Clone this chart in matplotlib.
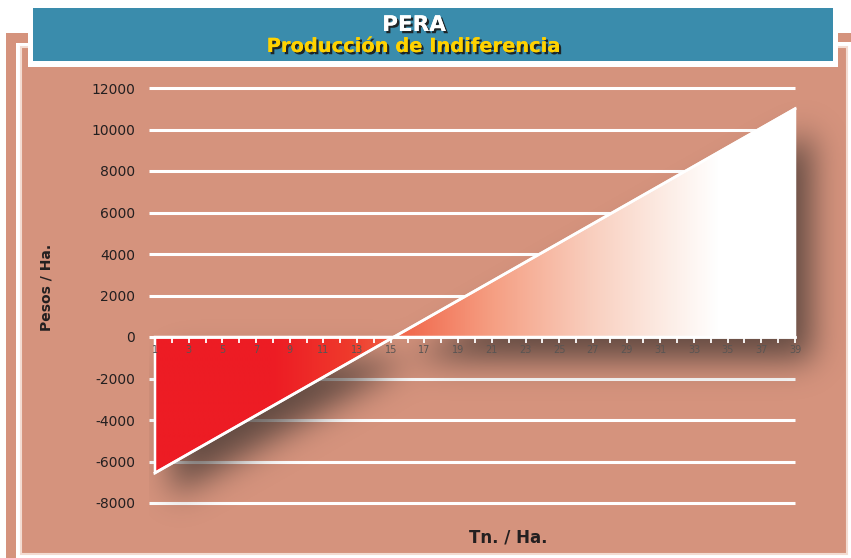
import numpy as np
import matplotlib
matplotlib.use("Agg")
import matplotlib.pyplot as plt
from matplotlib.patches import Rectangle, PathPatch
from matplotlib.path import Path
from matplotlib.colors import LinearSegmentedColormap
import matplotlib.patheffects as pe

# ---- data ----
x_values = [1, 39]                 # Tn./Ha. (line end points)
y_values = [-6550, 11000]          # Pesos/Ha.
x_categories = list(range(1, 40))
x_tick_labels = [str(c) if c % 2 == 1 else "" for c in x_categories]
y_ticks = [-8000, -6000, -4000, -2000, 0, 2000, 4000, 6000, 8000, 10000, 12000]
title_top = "PERA"
title_sub = "Producción de Indiferencia"
xlabel = "Tn. / Ha."
ylabel = "Pesos / Ha."

# ---- style ----
W_PX, H_PX = 851, 558
DPI = 100
SALMON = "#D5937D"
TEAL = "#3A8CAC"
TXT = "#231F20"

fig = plt.figure(figsize=(W_PX / DPI, H_PX / DPI), dpi=DPI)
fig.patch.set_facecolor("white")

# background frame axes in pixel coordinates
bg = fig.add_axes([0, 0, 1, 1], zorder=0)
bg.set_xlim(0, W_PX)
bg.set_ylim(H_PX, 0)
bg.axis("off")
bg.add_patch(Rectangle((6, 33), 10, 530, color=SALMON, lw=0))
bg.add_patch(Rectangle((6, 33), 22, 10, color=SALMON, lw=0))
bg.add_patch(Rectangle((838, 33), 14, 9, color=SALMON, lw=0))
bg.add_patch(Rectangle((21, 47), 826, 507, facecolor=SALMON, edgecolor="#F3DCD2", lw=1.5))
bg.add_patch(Rectangle((28, 3), 810, 64, color="white", lw=0))
bg.add_patch(Rectangle((33, 8), 800, 53, color=TEAL, lw=0))

shadow_fx = [pe.withSimplePatchShadow(offset=(1.6, -1.6), shadow_rgbFace="#1a1a1a", alpha=0.9), pe.Normal()]
bg.text(414, 25, title_top, ha="center", va="center", fontsize=15.5, fontweight="bold",
        color="white", family="DejaVu Sans", path_effects=shadow_fx)
bg.text(414, 46.5, title_sub, ha="center", va="center", fontsize=14, fontweight="bold",
        color="#FFD200", family="DejaVu Sans", path_effects=shadow_fx)

# ---- plot axes ----
ax_l, ax_r, ax_t, ax_b = 149, 846, 80, 545
ax = fig.add_axes([ax_l / W_PX, 1 - ax_b / H_PX, (ax_r - ax_l) / W_PX, (ax_b - ax_t) / H_PX], zorder=1)
ax.patch.set_alpha(0)
px_per_x = 640 / 38.0
px_per_y = 249 / 12000.0
xmin = 1 - 6 / px_per_x
xmax = 39 + (ax_r - 795) / px_per_x
ymax = 12000 + (88 - ax_t) / px_per_y
ymin = -8000 - (ax_b - 503) / px_per_y
ax.set_xlim(xmin, xmax)
ax.set_ylim(ymin, ymax)

# grid lines
ax.hlines(y_ticks, xmin, 39, colors="white", lw=2.2, zorder=1)

# region polygon between line and zero
xs = np.array(x_values, float)
ys = np.array(y_values, float)
verts = [(xs[0], 0)] + list(zip(xs, ys)) + [(xs[-1], 0), (xs[0], 0)]
codes = [Path.MOVETO] + [Path.LINETO] * (len(verts) - 2) + [Path.CLOSEPOLY]
region = Path(verts, codes)

# shadow
W = ax_r - ax_l
H = ax_b - ax_t
pxs = np.arange(W) + 0.5
pys = np.arange(H) + 0.5
gx, gy = np.meshgrid(pxs, pys)
xd = xmin + gx / W * (xmax - xmin)
yd = ymax - gy / H * (ymax - ymin)
off_x, off_y = 17, 23
pts = np.column_stack([(xd - off_x / px_per_x).ravel(), (yd + off_y / px_per_y).ravel()])
mask = region.contains_points(pts).reshape(H, W).astype(float)
sig = 16.0
k = np.arange(-55, 56)
kern = np.exp(-k ** 2 / (2 * sig ** 2))
kern /= kern.sum()
blur = np.apply_along_axis(lambda r: np.convolve(r, kern, mode="same"), 1, mask)
blur = np.apply_along_axis(lambda c: np.convolve(c, kern, mode="same"), 0, blur)
rgba = np.zeros((H, W, 4))
rgba[..., 0] = 60 / 255
rgba[..., 1] = 50 / 255
rgba[..., 2] = 46 / 255
rgba[..., 3] = np.clip(blur * 0.75, 0, 1)
ax.imshow(rgba, extent=[xmin, xmax, ymin, ymax], origin="upper", aspect="auto",
          interpolation="bilinear", zorder=2)

# gradient fill
stops = [(1, "#ED1C24"), (8, "#ED1C24"), (12.5, "#EF3A2C"), (15.5, "#F16549"),
         (21, "#F59E82"), (27, "#F9CFBF"), (32, "#FDF0EA"), (34.5, "#FFFFFF"), (39, "#FFFFFF")]
cm = LinearSegmentedColormap.from_list("g", [((s - 1) / 38.0, c) for s, c in stops])
grad = np.linspace(0, 1, 512).reshape(1, -1)
im = ax.imshow(grad, cmap=cm, extent=[xs[0], xs[-1], min(ys.min(), 0), max(ys.max(), 0)],
               aspect="auto", interpolation="bilinear", zorder=3)
clip = PathPatch(region, transform=ax.transData, facecolor="none", edgecolor="none")
ax.add_patch(clip)
im.set_clip_path(clip)
ax.add_patch(PathPatch(region, facecolor="none", edgecolor="white", lw=1.8, zorder=4,
                       joinstyle="miter"))
ax.plot(xs, ys, color="white", lw=2, zorder=4)

# axes styling
for s in ["top", "right", "left"]:
    ax.spines[s].set_visible(False)
ax.spines["bottom"].set_position(("data", 0))
ax.spines["bottom"].set_color("white")
ax.spines["bottom"].set_linewidth(2)
ax.spines["bottom"].set_bounds(1, 39)
ax.spines["bottom"].set_zorder(5)
ax.xaxis.set_zorder(6)
ax.yaxis.set_zorder(6)
ax.set_xticks(x_categories)
ax.set_xticklabels(x_tick_labels)
ax.tick_params(axis="x", direction="out", length=4, width=1.3, color="white",
               labelsize=7, labelcolor="#5A5553", pad=2)
ax.set_yticks(y_ticks)
ax.set_yticklabels([str(v) for v in y_ticks])
ax.tick_params(axis="y", length=0, labelsize=10, labelcolor=TXT, pad=10)

fig.text(46 / W_PX, 1 - 287 / H_PX, ylabel, rotation=90, ha="center", va="center",
         fontsize=10, fontweight="bold", color=TXT)
fig.text(508 / W_PX, 1 - 538 / H_PX, xlabel, ha="center", va="center",
         fontsize=12, fontweight="bold", color=TXT)

fig.savefig("out.png", dpi=DPI)
